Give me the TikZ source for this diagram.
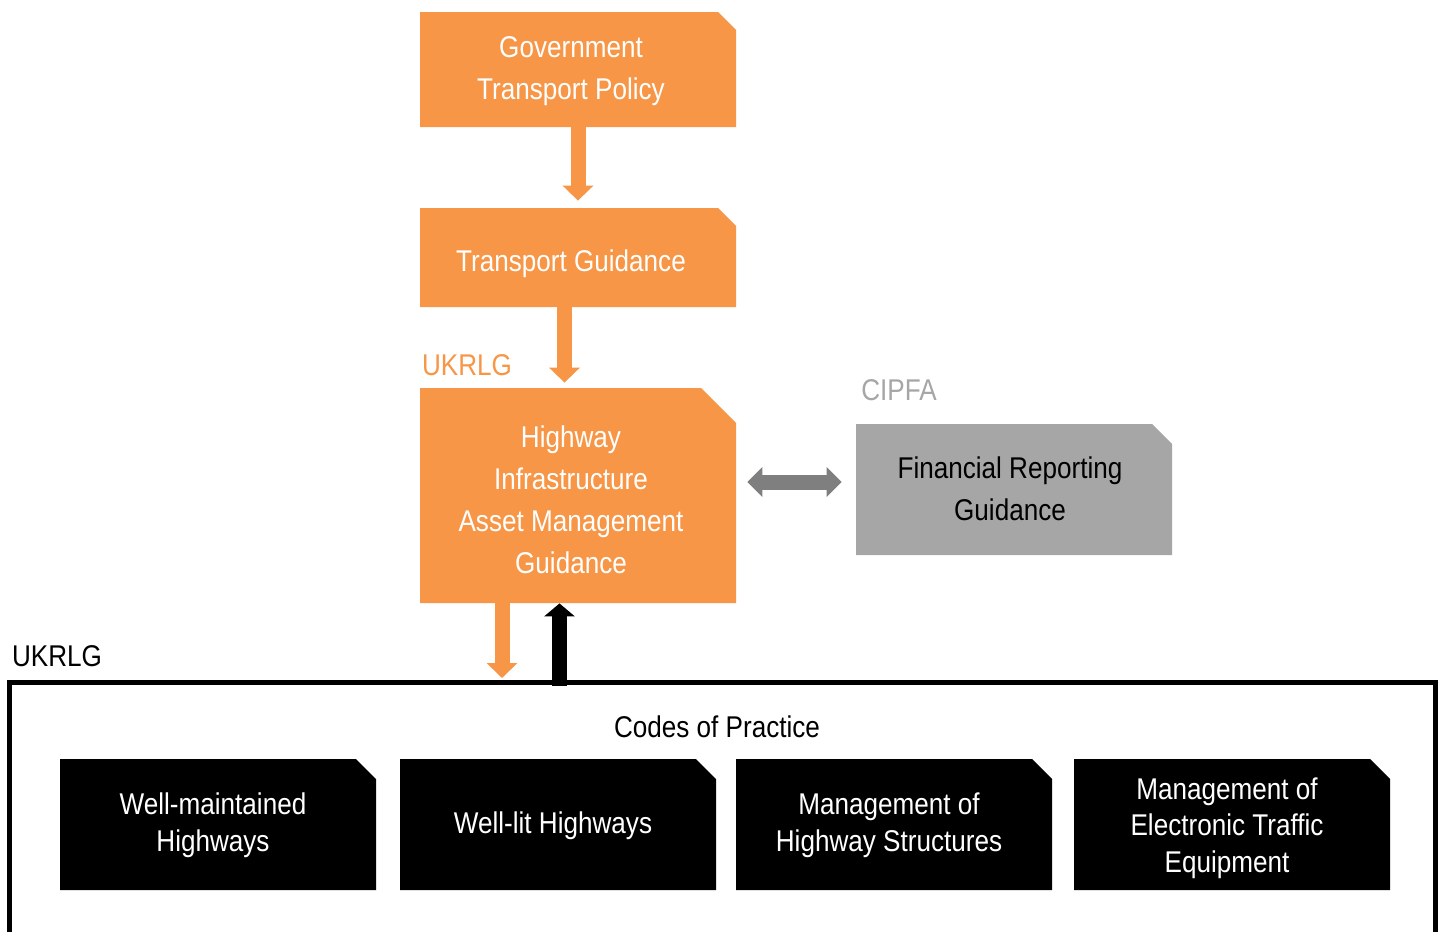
\documentclass[tikz,border=0pt]{standalone}
\usepackage{fontspec}
\setmainfont{Liberation Sans}[FakeStretch=0.87]
\usetikzlibrary{shapes.misc,arrows.meta}

\definecolor{ukorange}{HTML}{F79646}
\definecolor{boxgrey}{HTML}{A6A6A6}
\definecolor{arrowgrey}{HTML}{7F7F7F}

% centred lines, pushed a little to the left of the cut corner;
% the optional argument moves the lines down
\newcommand\boxlines[2][0.5pt]{\raisebox{-#1}[\height][\depth]{%
  \begin{tabular}{@{}c@{\hspace{\boxpad}}}#2\end{tabular}}}

\tikzset{
  docbox/.style={chamfered rectangle, chamfered rectangle corners=north east,
    chamfered rectangle xsep=#1, chamfered rectangle ysep=#1,
    inner sep=0pt, minimum width=158pt, text=white,
    font=\fontsize{15}{21}\selectfont},
  orangebox/.style={docbox=4.5pt, fill=ukorange, /utils/exec={\def\boxpad{7pt}}},
  greybox/.style={docbox=5pt, fill=boxgrey, text=black, /utils/exec={\def\boxpad{4pt}}},
  blackbox/.style={docbox=5pt, fill=black, minimum height=65.5pt,
    font=\fontsize{15}{18.25}\selectfont, /utils/exec={\def\boxpad{5pt}}},
  label/.style={font=\fontsize{15}{18}\selectfont},
  orangearrow/.style={draw=ukorange, line width=7.5pt,
    -{Triangle[width=15pt,length=7.5pt]}},
  blackarrow/.style={draw=black, line width=7.5pt,
    -{Triangle[width=15pt,length=6.5pt]}},
  greyarrow/.style={draw=arrowgrey, line width=7.5pt,
    {Triangle[width=14.5pt,length=7.5pt]}-{Triangle[width=14.5pt,length=7.5pt]}},
}

\begin{document}
\begin{tikzpicture}[x=0.5pt,y=-0.5pt]
    \useasboundingbox (0,0) rectangle (1445,932);

    % guidance chain
    \node[orangebox, minimum height=57.5pt] (gov) at (578,69.5) {\boxlines{Government\\Transport Policy}};
    \node[orangebox, minimum height=49.5pt] (tg) at (578,257.5) {\boxlines[3pt]{Transport Guidance}};
    \node[orangebox, docbox=8.75pt, minimum height=107.5pt] (hiam) at (578,495.5)
        {\boxlines[3.5pt]{Highway\\Infrastructure\\Asset Management\\Guidance}};
    \node[greybox, minimum height=65.5pt] (frg) at (1014,489.5) {\boxlines[1pt]{Financial Reporting\\Guidance}};

    \node[label, text=ukorange] (ukrlgtop) at (467,365) {UKRLG};
    \node[label, text=boxgrey] (cipfa) at (899,390) {CIPFA};
    \node[label] (ukrlg) at (57,656) {UKRLG};

    % codes of practice frame
    \draw[line width=2.25pt] (9.5,932) -- (9.5,682.5) -- (1435.5,682.5) -- (1435.5,932);
    \node[label] (codes) at (717,727) {Codes of Practice};

    \node[blackbox] (wmh) at (218,824.5) {\boxlines{Well-maintained\\Highways}};
    \node[blackbox] (wlh) at (558,824.5) {\boxlines[1pt]{Well-lit Highways}};
    \node[blackbox] (mhs) at (894,824.5) {\boxlines{Management of\\Highway Structures}};
    \node[blackbox] (mete) at (1232,824.5) {\boxlines[2pt]{Management of\\Electronic Traffic\\Equipment}};

    \coordinate (downend) at (502,678);
    \coordinate (upstart) at (559.5,686);

    % arrows
    \draw[orangearrow] (gov.south) -- ([yshift=3.5pt]tg.north);
    \draw[orangearrow] ([xshift=-6.75pt]tg.south) -- ([xshift=-6.75pt,yshift=2.5pt]hiam.north);
    \draw[orangearrow] ([xshift=-38pt]hiam.south) -- (downend);
    \draw[blackarrow] (upstart) -- ([xshift=-9.25pt]hiam.south);
    \draw[greyarrow] ([xshift=5.5pt,yshift=3.75pt]hiam.east |- frg.west) -- ([xshift=-7pt,yshift=3.75pt]frg.west);
\end{tikzpicture}
\end{document}
